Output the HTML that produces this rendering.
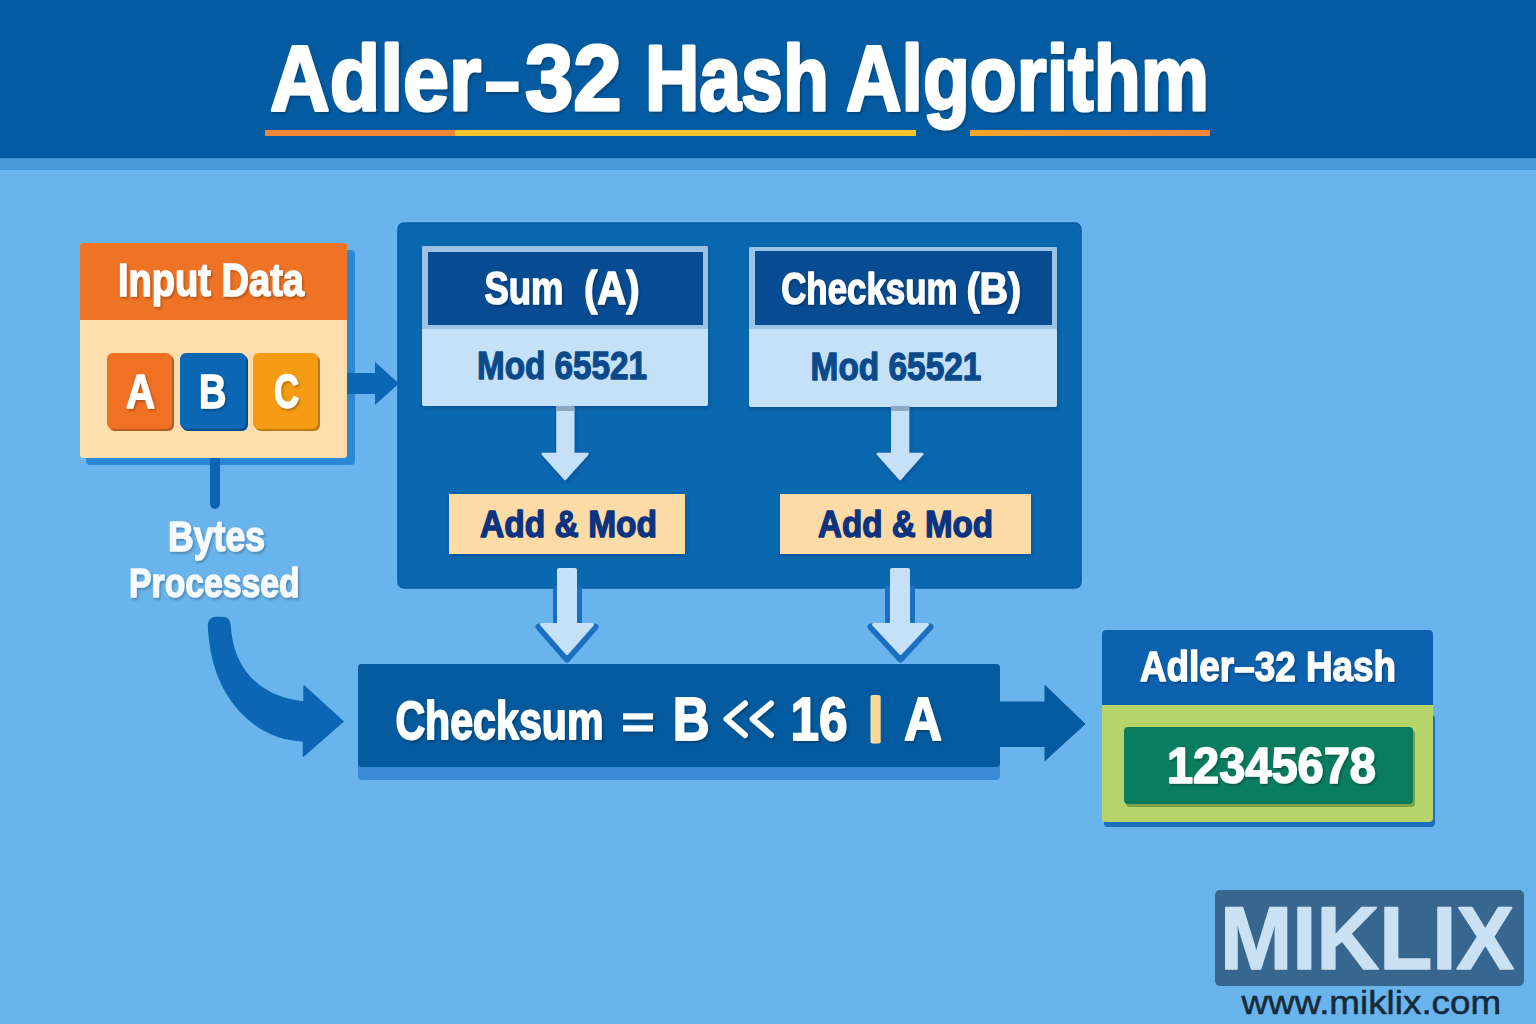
<!DOCTYPE html>
<html><head><meta charset="utf-8">
<style>
html,body{margin:0;padding:0;width:1536px;height:1024px;overflow:hidden;background:#69B4EC;}
svg{display:block;}
text{font-family:"Liberation Sans",sans-serif;font-weight:bold;stroke-linejoin:round;}
</style></head>
<body>
<svg width="1536" height="1024" viewBox="0 0 1536 1024">
<defs>
<filter id="ts" x="-5%" y="-20%" width="110%" height="140%">
<feDropShadow dx="1.5" dy="2" stdDeviation="1" flood-color="#000" flood-opacity="0.25"/>
</filter>
<filter id="bs" x="-10%" y="-10%" width="120%" height="130%">
<feDropShadow dx="1" dy="2" stdDeviation="2" flood-color="#002a5a" flood-opacity="0.35"/>
</filter>
<linearGradient id="ul3" x1="0" x2="1" y1="0" y2="0">
<stop offset="0" stop-color="#F5A82C"/><stop offset="1" stop-color="#F0883A"/>
</linearGradient>
</defs>
<!-- background -->
<rect x="0" y="0" width="1536" height="1024" fill="#69B4EC"/>
<!-- header -->
<rect x="0" y="0" width="1536" height="158.5" fill="#045BA1"/>
<rect x="0" y="158.5" width="1536" height="11.5" fill="#4999DB"/>
<g filter="url(#ts)"><text id="t1a" x="270.0" y="109.5" font-size="93" fill="#fff" textLength="211.2" lengthAdjust="spacingAndGlyphs" stroke="#fff" stroke-width="3">Adler</text><rect x="486" y="81.5" width="32.5" height="10.5" fill="#fff"/><text id="t1d" x="525.0" y="109.5" font-size="93" fill="#fff" textLength="96.7" lengthAdjust="spacingAndGlyphs" stroke="#fff" stroke-width="3">32</text><text id="t1b" x="645.0" y="109.5" font-size="93" fill="#fff" textLength="183.8" lengthAdjust="spacingAndGlyphs" stroke="#fff" stroke-width="3">Hash</text><text id="t1c" x="846.0" y="109.5" font-size="93" fill="#fff" textLength="363.0" lengthAdjust="spacingAndGlyphs" stroke="#fff" stroke-width="3">Algorithm</text></g>
<rect x="265" y="130" width="190" height="6" fill="#F0883A"/>
<rect x="455" y="130" width="461" height="6" fill="#F4C430"/>
<rect x="970" y="130" width="240" height="6" fill="url(#ul3)"/>

<!-- input data -->
<rect x="86" y="250" width="269" height="215" rx="4" fill="#2C88D5"/>
<rect x="80" y="243" width="267" height="215" rx="3" fill="#FCDEAD"/>
<path d="M80 320 V246 a3 3 0 0 1 3 -3 H344 a3 3 0 0 1 3 3 V320 Z" fill="#EE7324"/>
<text id="t2" x="118.0" y="296.2" font-size="45.8" fill="#fff" textLength="186.0" lengthAdjust="spacingAndGlyphs" filter="url(#ts)" stroke="#fff" stroke-width="1.5">Input Data</text>
<rect x="109" y="355" width="65" height="76" rx="6" fill="#B85B1E"/>
<rect x="107" y="353" width="65" height="76" rx="6" fill="#F07024"/>
<rect x="182" y="355" width="66" height="76" rx="6" fill="#0A4C86"/>
<rect x="180" y="353" width="66" height="76" rx="6" fill="#0B66B4"/>
<rect x="255" y="355" width="65" height="76" rx="6" fill="#BE7A12"/>
<rect x="253" y="353" width="65" height="76" rx="6" fill="#F59B14"/>
<text id="t3" x="126.0" y="408.2" font-size="48.7" fill="#fff" textLength="29.1" lengthAdjust="spacingAndGlyphs" filter="url(#ts)" stroke="#fff" stroke-width="1.5">A</text>
<text id="t4" x="199.0" y="408.2" font-size="48.7" fill="#fff" textLength="27.3" lengthAdjust="spacingAndGlyphs" filter="url(#ts)" stroke="#fff" stroke-width="1.5">B</text>
<text id="t5" x="274.0" y="408.2" font-size="48.7" fill="#fff" textLength="25.1" lengthAdjust="spacingAndGlyphs" filter="url(#ts)" stroke="#fff" stroke-width="1.5">C</text>
<!-- arrow input->panel -->
<path d="M347 373 H375 V362 L399 383.5 L375 405 V394 H347 Z" fill="#0D66B3"/>
<!-- vertical line -->
<path d="M210 458 H220 V504 a5 5 0 0 1 -10 0 Z" fill="#0D64B0"/>
<text id="t6" x="168.0" y="551.3" font-size="41.9" fill="#F6FAFD" textLength="97.1" lengthAdjust="spacingAndGlyphs" filter="url(#ts)" stroke="#F6FAFD" stroke-width="1.4">Bytes</text>
<text id="t7" x="129.0" y="597.1" font-size="41.3" fill="#F6FAFD" textLength="170.7" lengthAdjust="spacingAndGlyphs" filter="url(#ts)" stroke="#F6FAFD" stroke-width="1.4">Processed</text>
<!-- curved arrow -->
<path d="M208.5 626 Q208.5 618 216 617.5 H222 Q229.5 617.5 230 625 C232 665 255 697 304 702 V686 L343 721.5 L303.5 756 V741 C258 739 212 702 208.5 626 Z" fill="#0D66B3" stroke="#0D66B3" stroke-width="1.5" stroke-linejoin="round"/>

<!-- main panel -->
<rect x="398" y="223" width="683" height="365" rx="6" fill="#0A68B0" stroke="#095CA3" stroke-width="1.5"/>
<!-- sum box -->
<rect x="422" y="246" width="286" height="160" rx="2" fill="#C5E1F7" filter="url(#bs)"/>
<path d="M422 329 V248 a2 2 0 0 1 2 -2 H706 a2 2 0 0 1 2 2 V329 Z" fill="#9CC3E3"/>
<rect x="428" y="252" width="275" height="73" fill="#074C93"/>
<text id="t8" x="484.4" y="304.2" font-size="45.8" fill="#fff" textLength="79.1" lengthAdjust="spacingAndGlyphs" filter="url(#ts)" stroke="#fff" stroke-width="1.5">Sum</text>
<text id="t9" x="584.0" y="304.2" font-size="45.8" fill="#fff" textLength="55.7" lengthAdjust="spacingAndGlyphs" filter="url(#ts)" stroke="#fff" stroke-width="1.5">(A)</text>
<text id="t10" x="477.0" y="379" font-size="38.4" fill="#0B4A8A" textLength="170.0" lengthAdjust="spacingAndGlyphs" stroke="#0B4A8A" stroke-width="1.3">Mod 65521</text>
<!-- checksum box -->
<rect x="749" y="247" width="308" height="160" rx="2" fill="#C5E1F7" filter="url(#bs)"/>
<path d="M749 329 V249 a2 2 0 0 1 2 -2 H1055 a2 2 0 0 1 2 2 V329 Z" fill="#9CC3E3"/>
<rect x="755" y="251" width="297" height="74" fill="#074C93"/>
<text id="t11" x="781.2" y="303.5" font-size="43.9" fill="#fff" textLength="176.3" lengthAdjust="spacingAndGlyphs" filter="url(#ts)" stroke="#fff" stroke-width="1.4">Checksum</text>
<text id="t12" x="966.4" y="303.5" font-size="43.9" fill="#fff" textLength="54.8" lengthAdjust="spacingAndGlyphs" filter="url(#ts)" stroke="#fff" stroke-width="1.4">(B)</text>
<text id="t13" x="810.6" y="379.5" font-size="38.2" fill="#0B4A8A" textLength="170.8" lengthAdjust="spacingAndGlyphs" stroke="#0B4A8A" stroke-width="1.3">Mod 65521</text>
<!-- inner arrows -->
<path d="M557.5 408 H573.2 V453.9 H587.5 L565.1 479 L542.7 453.9 H557.5 Z" fill="#C5E0F7" stroke="#C5E0F7" stroke-width="2.5" stroke-linejoin="round" filter="url(#bs)"/>
<rect x="556.2" y="406" width="18.2" height="5" fill="#8DA9C2"/>
<path d="M892.3 408 H908 V453.9 H922.3 L900.1 479 L877.8 453.9 H892.3 Z" fill="#C5E0F7" stroke="#C5E0F7" stroke-width="2.5" stroke-linejoin="round" filter="url(#bs)"/>
<rect x="891" y="406" width="18.2" height="5" fill="#8DA9C2"/>
<!-- add & mod -->
<rect x="449" y="494" width="236" height="60" fill="#FCDBA6" filter="url(#bs)"/>
<rect x="780" y="494" width="251" height="60" fill="#FCDBA6" filter="url(#bs)"/>
<text id="t14" x="480.0" y="537.3" font-size="37.5" fill="#0B3380" textLength="177.1" lengthAdjust="spacingAndGlyphs" stroke="#0B3380" stroke-width="1.4">Add &amp; Mod</text>
<text id="t15" x="818.0" y="537.3" font-size="37.5" fill="#0B3380" textLength="175.1" lengthAdjust="spacingAndGlyphs" stroke="#0B3380" stroke-width="1.4">Add &amp; Mod</text>
<!-- lower arrows -->
<rect x="553" y="586" width="29" height="40" fill="#1A6FC0"/>
<path d="M539 627 L567 659 L595 627 Z" fill="#1A6FC0" stroke="#1A6FC0" stroke-width="7" stroke-linejoin="round"/>
<rect x="557" y="568" width="20" height="58" rx="2" fill="#C5E0F7"/>
<path d="M541.5 624.5 H592.5 L567 653.5 Z" fill="#C5E0F7" stroke="#C5E0F7" stroke-width="3" stroke-linejoin="round"/>
<rect x="885" y="586" width="30" height="40" fill="#1A6FC0"/>
<path d="M871 627 L900.5 659 L930 627 Z" fill="#1A6FC0" stroke="#1A6FC0" stroke-width="7" stroke-linejoin="round"/>
<rect x="890" y="568" width="20" height="58" rx="2" fill="#C5E0F7"/>
<path d="M873.5 624.5 H927.5 L900.5 653.5 Z" fill="#C5E0F7" stroke="#C5E0F7" stroke-width="3" stroke-linejoin="round"/>

<!-- formula bar -->
<rect x="358" y="664" width="642" height="116" rx="4" fill="#3A8AD5"/>
<rect x="358" y="664" width="642" height="103" rx="4" fill="#045A9E"/>
<g filter="url(#ts)">
<text id="t16" x="395.4" y="738.8" font-size="53" fill="#fff" textLength="208.1" lengthAdjust="spacingAndGlyphs" stroke="#fff" stroke-width="1.8">Checksum</text>
<rect x="623" y="713.3" width="30" height="6.2" fill="#fff"/>
<rect x="623" y="725.3" width="30" height="6.2" fill="#fff"/>
<text id="t18" x="672.8" y="739.8" font-size="61.3" fill="#fff" textLength="36.9" lengthAdjust="spacingAndGlyphs" stroke="#fff" stroke-width="1.8">B</text>
<path d="M745 703.5 L726.5 719 L745 735 M771 703.5 L752.5 719 L771 735" fill="none" stroke="#fff" stroke-width="6" stroke-linecap="round" stroke-linejoin="round"/>
<text id="t19" x="790.4" y="739.8" font-size="61.3" fill="#fff" textLength="57.1" lengthAdjust="spacingAndGlyphs" stroke="#fff" stroke-width="1.8">16</text>
<text id="t20" x="904.0" y="739.8" font-size="61.3" fill="#fff" textLength="38.1" lengthAdjust="spacingAndGlyphs" stroke="#fff" stroke-width="1.8">A</text>
</g>
<rect x="870.5" y="695" width="10.2" height="48.6" rx="2" fill="#F9D89A"/>
<path d="M999 702 H1045 V685.5 L1085 724 L1045 760.5 V746.5 H999 Z" fill="#045A9E" stroke="#045A9E" stroke-width="1" stroke-linejoin="round"/>

<!-- hash box -->
<rect x="1104" y="715" width="331" height="112" rx="4" fill="#1C6EC0"/>
<rect x="1102" y="630" width="331" height="192" rx="4" fill="#B6D56A"/>
<path d="M1102 705 V634 a4 4 0 0 1 4 -4 H1429 a4 4 0 0 1 4 4 V705 Z" fill="#0D62B0"/>
<text id="t21" x="1140.0" y="681.3" font-size="43" fill="#fff" textLength="256.0" lengthAdjust="spacingAndGlyphs" filter="url(#ts)" stroke="#fff" stroke-width="1.4">Adler–32 Hash</text>
<rect x="1126" y="730" width="289" height="77" rx="4" fill="#7FA046"/>
<rect x="1124" y="727" width="289" height="77" rx="4" fill="#0B7D5F"/>
<text id="t22" x="1167.0" y="783.2" font-size="49.3" fill="#fff" textLength="208.9" lengthAdjust="spacingAndGlyphs" filter="url(#ts)" stroke="#fff" stroke-width="1.6">12345678</text>

<!-- logo -->
<rect x="1215" y="890" width="309" height="96" rx="5" fill="#37668E"/>
<text id="t23" x="1220.0" y="969.2" font-size="89.5" fill="#C9E1F3" textLength="294.2" lengthAdjust="spacingAndGlyphs" stroke="#C9E1F3" stroke-width="1.6">MIKLIX</text>
<text id="t24" x="1241.4" y="1013.5" font-size="32.3" fill="#182A3A" style="font-weight:normal" textLength="259.8" lengthAdjust="spacingAndGlyphs" stroke="#182A3A" stroke-width="0.5">www.miklix.com</text>
</svg>
</body></html>
